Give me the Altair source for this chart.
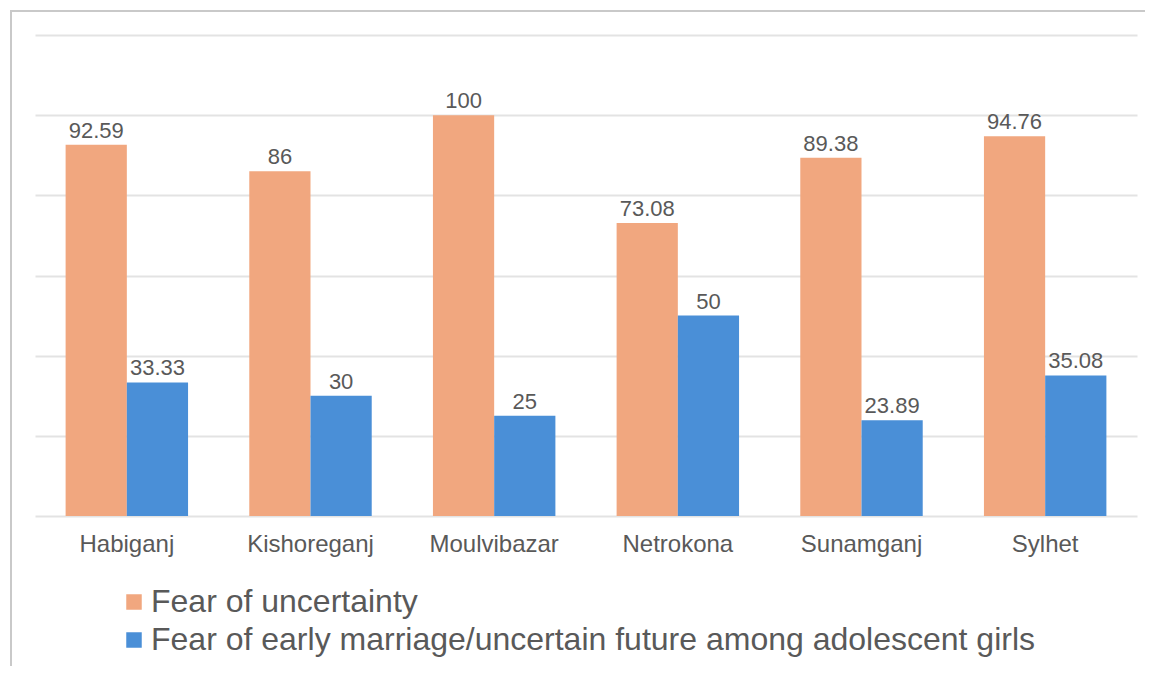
import altair as alt
import pandas as pd

districts = ["Habiganj", "Kishoreganj", "Moulvibazar", "Netrokona", "Sunamganj", "Sylhet"]
series = ["Fear of uncertainty",
          "Fear of early marriage/uncertain future among adolescent girls"]
fear_uncertainty = [92.59, 86, 100, 73.08, 89.38, 94.76]
fear_marriage = [33.33, 30, 25, 50, 23.89, 35.08]
labels_unc = ["92.59", "86", "100", "73.08", "89.38", "94.76"]
labels_mar = ["33.33", "30", "25", "50", "23.89", "35.08"]
colors = ["#F1A77F", "#4A8FD7"]

rows = []
for i, d in enumerate(districts):
    rows.append({"district": d, "series": series[0], "value": fear_uncertainty[i], "label": labels_unc[i]})
    rows.append({"district": d, "series": series[1], "value": fear_marriage[i], "label": labels_mar[i]})
df = pd.DataFrame(rows)

FONT = "Liberation Sans"
TXT = "#595959"

x = alt.X("district:N", sort=districts,
          scale=alt.Scale(paddingInner=1/3, paddingOuter=1/6),
          axis=alt.Axis(title=None, labelAngle=0, labelFontSize=24, labelColor=TXT,
                        labelFont=FONT, ticks=False, domain=False, grid=False, labelPadding=16))
xo = alt.XOffset("series:N", sort=series, scale=alt.Scale(paddingInner=0, paddingOuter=0))
y = alt.Y("value:Q", scale=alt.Scale(domain=[0, 120], nice=False),
          axis=alt.Axis(title=None, labels=False, ticks=False, domain=False,
                        values=[0, 20, 40, 60, 80, 100, 120], gridColor="#E3E3E3", gridWidth=2))

bars = alt.Chart(df).mark_bar().encode(
    x=x, xOffset=xo, y=y,
    color=alt.Color("series:N", sort=series,
                    scale=alt.Scale(domain=series, range=colors),
                    legend=alt.Legend(title=None, orient="none", legendX=83, legendY=551,
                                      direction="vertical", symbolType="square",
                                      symbolSize=240, symbolStrokeWidth=0,
                                      labelFontSize=32, labelFont=FONT, labelColor=TXT,
                                      labelOffset=1, rowPadding=6, padding=0,
                                      labelLimit=1100)),
)

text = alt.Chart(df).mark_text(baseline="bottom", dy=-2, fontSize=22, font=FONT, color=TXT).encode(
    x=alt.X("district:N", sort=districts), xOffset=alt.XOffset("series:N", sort=series),
    y="value:Q", text="label:N",
)

frame_df = pd.DataFrame({"a": [0]})
frame_left = alt.Chart(frame_df).mark_rule(color="#C9C9C9", strokeWidth=2, clip=False).encode(
    x=alt.value(-24), y=alt.value(-25), y2=alt.value(700))
frame_top = alt.Chart(frame_df).mark_rule(color="#C9C9C9", strokeWidth=2, clip=False).encode(
    x=alt.value(-25), x2=alt.value(1200), y=alt.value(-24))

chart = alt.layer(frame_left, frame_top, bars, text).properties(
    width=1102, height=481,
    padding={"left": 27, "top": 27, "right": 8, "bottom": 150},
    autosize=alt.AutoSizeParams(type="none"),
    background="transparent",
).configure_view(strokeWidth=0, stroke="transparent")

chart.save("out.html", embed_options={"renderer": "svg", "actions": False})
